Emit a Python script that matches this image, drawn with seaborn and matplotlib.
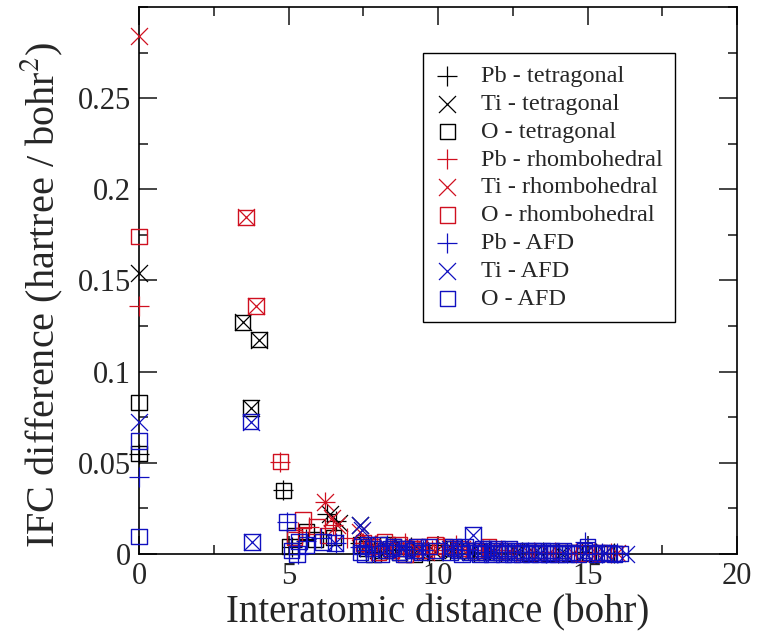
import matplotlib
matplotlib.use("Agg")
import matplotlib.pyplot as plt
import seaborn as sns
import numpy as np
from matplotlib.ticker import MultipleLocator

sns.set_style("ticks")
plt.rcParams['font.family'] = ['Liberation Serif', 'DejaVu Serif']
plt.rcParams['mathtext.fontset'] = 'stix'

# ---- data ----
pb_tet_d = [0, 4.82, 5.1, 5.6, 6.3, 6.6, 7.4, 7.6, 7.9, 8.3, 8.6, 9.1, 9.3, 9.7, 10.4, 10.8, 11.2, 11.7, 12.1, 12.8, 13.5, 14.0, 14.8, 15.3, 15.9]
pb_tet_v = [0.055, 0.035, 0.004, 0.008, 0.022, 0.018, 0.006, 0.004, 0.001, 0.003, 0.002, 0.004, 0.002, 0.0, 0.002, 0.003, 0.001, 0.002, 0.001, 0.001, 0.001, 0.0005, 0.001, 0.0005, 0.0003]

ti_tet_d = [0, 3.47, 4.01, 3.74, 6.4, 6.7, 7.4, 7.6, 8.0, 8.3, 8.8, 9.3, 9.9, 10.5, 11.1, 11.8, 12.6, 13.2, 14.1, 14.9, 15.6]
ti_tet_v = [0.154, 0.127, 0.1176, 0.080, 0.022, 0.017, 0.016, 0.005, 0.002, 0.003, 0.004, 0.002, 0.001, 0.002, 0.001, 0.001, 0.001, 0.0005, 0.0005, 0.0003, 0.0003]

o_tet_d = [0, 0, 3.47, 4.01, 3.74, 4.82, 5.05, 5.2, 5.6, 5.9, 6.5, 7.4, 7.6, 7.85, 8.1, 8.3, 8.5, 8.7, 8.9, 9.2, 9.4, 9.9, 10.5, 10.9, 11.4, 12.0, 12.5, 13.1, 13.8, 14.4, 15.0, 15.7]
o_tet_v = [0.083, 0.055, 0.127, 0.1176, 0.080, 0.035, 0.004, 0.010, 0.012, 0.008, 0.009, 0.005, 0.003, 0.0, 0.002, 0.005, 0.004, 0.001, 0.003, 0.0, 0.002, 0.001, 0.003, 0.002, 0.001, 0.001, 0.001, 0.0005, 0.0005, 0.0005, 0.0003, 0.0003]

pb_rho_d = [0, 4.72, 5.3, 5.7, 6.22, 6.5, 6.96, 7.5, 7.9, 8.4, 8.9, 9.3, 9.8, 10.2, 10.6, 11.0, 11.5, 12.1, 12.6, 13.2, 13.9, 14.6, 15.2, 15.8]
pb_rho_v = [0.136, 0.0506, 0.012, 0.015, 0.0285, 0.016, 0.009, 0.006, 0.005, 0.004, 0.006, 0.003, 0.002, 0.004, 0.005, 0.003, 0.002, 0.002, 0.001, 0.001, 0.001, 0.0005, 0.0005, 0.0003]

ti_rho_d = [0, 3.58, 3.91, 6.22, 6.45, 6.62, 7.4, 7.7, 8.3, 8.8, 9.2, 9.6, 10.3, 10.8, 11.6, 12.4, 13.0, 13.7, 14.5, 15.3, 16.0]
ti_rho_v = [0.284, 0.1846, 0.136, 0.0285, 0.020, 0.016, 0.012, 0.006, 0.004, 0.003, 0.004, 0.001, 0.002, 0.003, 0.001, 0.001, 0.001, 0.0005, 0.0005, 0.0003, 0.0003]

o_rho_d = [0, 3.58, 3.91, 4.72, 5.48, 5.95, 5.2, 6.3, 7.5, 7.8, 8.0, 8.2, 8.45, 8.7, 8.9, 9.1, 9.35, 9.6, 9.9, 10.2, 10.7, 11.2, 11.7, 12.2, 12.9, 13.4, 14.1, 14.7, 15.4, 15.9]
o_rho_v = [0.174, 0.1846, 0.136, 0.0506, 0.0187, 0.015, 0.009, 0.010, 0.006, 0.004, 0.001, 0.007, 0.002, 0.005, 0.0, 0.003, 0.004, 0.002, 0.005, 0.004, 0.003, 0.002, 0.004, 0.002, 0.001, 0.001, 0.001, 0.0005, 0.0005, 0.0003]

pb_afd_d = [0, 4.95, 5.3, 5.6, 6.1, 6.6, 7.4, 7.6, 8.3, 8.9, 9.5, 10.5, 11.0, 11.6, 12.3, 13.0, 13.6, 14.3, 14.9, 15.5, 16.0]
pb_afd_v = [0.042, 0.0176, 0.0, 0.007, 0.009, 0.006, 0.004, 0.002, 0.005, 0.003, 0.002, 0.003, 0.002, 0.001, 0.001, 0.001, 0.0005, 0.0005, 0.0066, 0.0005, 0.0003]

ti_afd_d = [0, 3.74, 3.78, 6.56, 7.4, 7.45, 8.3, 8.8, 9.4, 10.4, 11.17, 11.9, 12.7, 13.4, 14.2, 14.9, 15.6, 16.3]
ti_afd_v = [0.0725, 0.0725, 0.0066, 0.006, 0.016, 0.013, 0.004, 0.003, 0.002, 0.003, 0.0104, 0.001, 0.001, 0.0005, 0.0005, 0.0003, 0.0003, 0.0]

o_afd_d = [0, 0, 3.74, 3.78, 4.95, 5.1, 5.28, 5.35, 5.6, 6.15, 6.56, 7.4, 7.45, 7.55, 7.65, 7.8, 8.0, 8.1, 8.25, 8.4, 8.5, 8.7, 8.85, 8.95, 9.2, 9.3, 9.45, 9.7, 9.95,
            10.4, 10.5, 10.55, 10.7, 10.8, 10.9, 11.05, 11.17, 11.3, 11.4, 11.5, 11.6, 11.7, 11.8, 11.9, 12.0, 12.1, 12.2, 12.3, 12.4, 12.5, 12.6, 12.7, 12.8, 12.9, 13.0,
            13.1, 13.2, 13.3, 13.4, 13.5, 13.6, 13.7, 13.8, 13.9, 14.0, 14.1, 14.2, 14.3, 14.5, 14.7, 14.9, 15.0, 15.1, 15.3, 15.5, 15.7, 15.9, 16.1]
o_afd_v = [0.062, 0.0095, 0.0725, 0.0066, 0.0176, 0.002, 0.0, 0.007, 0.005, 0.0066, 0.006, 0.001, 0.004, 0.0, 0.005, 0.003, 0.005, 0.0, 0.002, 0.003, 0.004, 0.001, 0.0, 0.003, 0.002, 0.004, 0.001, 0.004, 0.002,
            0.001, 0.004, 0.003, 0.002, 0.0, 0.004, 0.001, 0.0104, 0.002, 0.0, 0.003, 0.001, 0.003, 0.0, 0.002, 0.003, 0.001, 0.0, 0.002, 0.003, 0.0, 0.001, 0.002, 0.0, 0.001, 0.002,
            0.0, 0.002, 0.001, 0.0, 0.002, 0.001, 0.0, 0.002, 0.001, 0.0, 0.001, 0.002, 0.0, 0.001, 0.0, 0.002, 0.004, 0.001, 0.0, 0.001, 0.0005, 0.0, 0.0003]

labels = ["Pb - tetragonal", "Ti - tetragonal", "O - tetragonal",
          "Pb - rhombohedral", "Ti - rhombohedral", "O - rhombohedral",
          "Pb - AFD", "Ti - AFD", "O - AFD"]
series = [(pb_tet_d, pb_tet_v), (ti_tet_d, ti_tet_v), (o_tet_d, o_tet_v),
          (pb_rho_d, pb_rho_v), (ti_rho_d, ti_rho_v), (o_rho_d, o_rho_v),
          (pb_afd_d, pb_afd_v), (ti_afd_d, ti_afd_v), (o_afd_d, o_afd_v)]
colors = ["black"] * 3 + ["#d01020"] * 3 + ["#1010c0"] * 3
markers = ["+", "x", "s"] * 3
sizes = [190, 150, 121] * 3

fig = plt.figure(figsize=(7.61, 6.31), dpi=100)
ax = fig.add_axes([0.1827, 0.122, 0.7858, 0.867])

for (d, v), lab, c, m, s in zip(series, labels, colors, markers, sizes):
    if m == "s":
        sns.scatterplot(x=d, y=v, ax=ax, marker=m, s=s, color=c, facecolors="none",
                        edgecolor=c, linewidth=1.0, clip_on=False, label=lab, legend=False, zorder=3)
    else:
        sns.scatterplot(x=d, y=v, ax=ax, marker=m, s=s, color=c,
                        linewidth=0.9, clip_on=False, label=lab, legend=False, zorder=3)

ax.set_xlim(0, 20)
ax.set_ylim(0, 0.3)
ax.set_xticks([0, 5, 10, 15, 20])
ax.set_yticks([0, 0.05, 0.1, 0.15, 0.2, 0.25])
ax.set_yticklabels(["0", "0.05", "0.1", "0.15", "0.2", "0.25"])
ax.xaxis.set_minor_locator(MultipleLocator(2.5))
ax.yaxis.set_minor_locator(MultipleLocator(0.025))
ax.tick_params(which="both", direction="in", top=True, right=True, width=1.2, labelsize=22, pad=6)
ax.tick_params(which="major", length=13)
ax.tick_params(which="minor", length=6.5)
for sp in ax.spines.values():
    sp.set_linewidth(1.2)
    sp.set_color("black")

ax.set_xlabel("Interatomic distance (bohr)", fontsize=28, labelpad=2)
ax.set_ylabel("IFC difference (hartree / bohr$^{2}$)", fontsize=29)
ax.yaxis.set_label_coords(-0.123, 0.473)

leg = ax.legend(loc="upper left", bbox_to_anchor=(0.475, 0.916), borderaxespad=0,
                fontsize=17.5, frameon=True, fancybox=False, framealpha=1,
                edgecolor="black", labelspacing=0.24, handlelength=1.0,
                handletextpad=0.9, borderpad=0.5, scatterpoints=1)
leg.get_frame().set_linewidth(1.0)

fig.savefig("out.png", dpi=100)
